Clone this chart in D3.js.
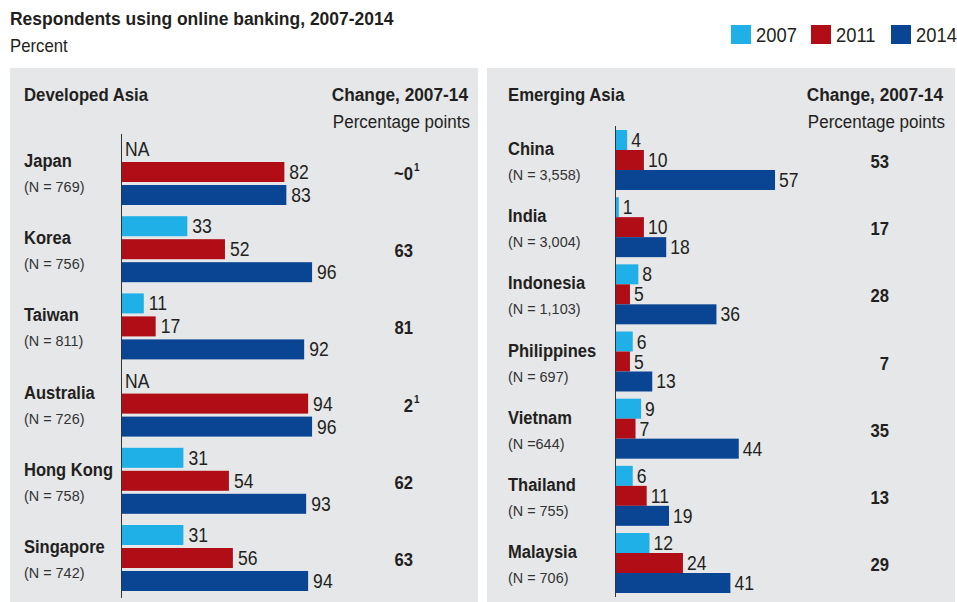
<!DOCTYPE html>
<html>
<head>
<meta charset="utf-8">
<script src="https://cdn.jsdelivr.net/npm/d3@7"></script>
<style>
  body { margin: 0; background: #fff; }
  text { font-family: "Liberation Sans Narrow", "Arial Narrow", "Liberation Sans", Arial, sans-serif; fill: #231f20; }
</style>
</head>
<body>
<div id="chart"></div>
<script>
// Data
const years = ["2007", "2011", "2014"];
const yearColors = ["#1eb0e6", "#b00d17", "#0a4594"];

const devCountries = ["Japan", "Korea", "Taiwan", "Australia", "Hong Kong", "Singapore"];
const devN = ["(N = 769)", "(N = 756)", "(N = 811)", "(N = 726)", "(N = 758)", "(N = 742)"];
const dev2007 = [null, 33, 11, null, 31, 31];
const dev2011 = [82, 52, 17, 94, 54, 56];
const dev2014 = [83, 96, 92, 96, 93, 94];
const devChange = ["~0", "63", "81", "2", "62", "63"];
const devNote = ["1", "", "", "1", "", ""];

const emCountries = ["China", "India", "Indonesia", "Philippines", "Vietnam", "Thailand", "Malaysia"];
const emN = ["(N = 3,558)", "(N = 3,004)", "(N = 1,103)", "(N = 697)", "(N =644)", "(N = 755)", "(N = 706)"];
const em2007 = [4, 1, 8, 6, 9, 6, 12];
const em2011 = [10, 10, 5, 5, 7, 11, 24];
const em2014 = [57, 18, 36, 13, 44, 19, 41];
const emChange = ["53", "17", "28", "7", "35", "13", "29"];
const emNote = ["", "", "", "", "", "", ""];

const W = 957, H = 602;
const svg = d3.select("#chart").append("svg")
    .attr("width", W).attr("height", H);

// the installed sans is wider than the condensed face of the original, so squeeze text horizontally
function place(sel, fx, fy, s) {
    return sel.attr("transform", (d, i) => {
        const x = typeof fx === "function" ? fx(d, i) : fx;
        const y = typeof fy === "function" ? fy(d, i) : fy;
        return `translate(${x},${y}) scale(${s},1)`;
    });
}

// Title
place(svg.append("text"), 10, 25, 0.945)
    .style("font-size", "18.5px").style("font-weight", "bold")
    .text("Respondents using online banking, 2007-2014");
place(svg.append("text"), 10, 52, 0.93)
    .style("font-size", "18px")
    .text("Percent");

// Legend
const legendX = [731, 811, 891];
const legend = svg.selectAll(".legend").data(years).enter().append("g")
    .attr("transform", (d, i) => `translate(${legendX[i]},25)`);
legend.append("rect").attr("width", 20).attr("height", 19)
    .attr("fill", (d, i) => yearColors[i]);
place(legend.append("text"), 25, 17, 0.92)
    .style("font-size", "20px")
    .text(d => d);

function drawPanel(p) {
    const g = svg.append("g");

    g.append("rect").attr("x", p.left).attr("y", 68)
        .attr("width", p.width).attr("height", H - 68)
        .attr("fill", "#e6e7e9");

    place(g.append("text"), p.nameX, 101, 0.93)
        .style("font-size", "18px").style("font-weight", "bold")
        .text(p.title);
    place(g.append("text"), p.headRight, 101, 0.96)
        .attr("text-anchor", "end")
        .style("font-size", "18px").style("font-weight", "bold")
        .text("Change, 2007-14");
    place(g.append("text"), p.headRight + 2, 128, 0.92)
        .attr("text-anchor", "end")
        .style("font-size", "18.5px")
        .text("Percentage points");

    const x = d3.scaleLinear().domain([0, 100]).range([p.axisX, p.axisX + p.pxPerUnit * 100]);

    const y0 = d3.scaleBand().domain(p.countries).range(p.yRange).paddingInner(p.groupPad);
    const y1 = d3.scaleBand().domain(years).range([0, y0.bandwidth()]).paddingInner(p.barPad);

    const rows = p.countries.map((c, i) => ({
        country: c, n: p.n[i], change: p.change[i], note: p.note[i],
        vals: [p.v2007[i], p.v2011[i], p.v2014[i]]
    }));

    const grp = g.selectAll(".grp").data(rows).enter().append("g")
        .attr("transform", d => `translate(0,${y0(d.country)})`);

    const mid = y0.bandwidth() / 2;

    place(grp.append("text"), p.nameX, mid - 5, 0.87)
        .style("font-size", "19px").style("font-weight", "bold")
        .text(d => d.country);
    place(grp.append("text"), p.nameX, mid + 20, 0.93)
        .style("font-size", "15.5px")
        .style("fill", "#333")
        .text(d => d.n);

    place(grp.append("text"), p.changeRight, mid + 8, 0.9)
        .attr("text-anchor", "end")
        .style("font-size", "18.5px").style("font-weight", "bold")
        .text(d => d.change);
    place(grp.filter(d => d.note).append("text"), p.changeRight + 1, mid - 1, 0.9)
        .style("font-size", "11px").style("font-weight", "bold")
        .text(d => d.note);

    const bars = grp.selectAll(".bar").data(d => d.vals.map((v, j) => ({ v: v, year: years[j], j: j })))
        .enter();

    bars.filter(d => d.v !== null).append("rect")
        .attr("x", x(0))
        .attr("y", d => y1(d.year))
        .attr("width", d => x(d.v) - x(0))
        .attr("height", y1.bandwidth())
        .attr("fill", d => yearColors[d.j]);

    place(bars.append("text"),
            d => d.v === null ? x(0) + 3 : x(d.v) + p.labelGap,
            d => y1(d.year) + y1.bandwidth() / 2 + 7, 0.9)
        .style("font-size", "19.5px")
        .text(d => d.v === null ? "NA" : d.v);

    g.append("line")
        .attr("x1", p.axisX - 0.5).attr("x2", p.axisX - 0.5)
        .attr("y1", p.axisTop).attr("y2", p.axisBottom)
        .attr("stroke", "#333").attr("stroke-width", 1);
}

drawPanel({
    left: 10, width: 468, title: "Developed Asia", headRight: 468, nameX: 24,
    countries: devCountries, n: devN, v2007: dev2007, v2011: dev2011, v2014: dev2014,
    change: devChange, note: devNote,
    axisX: 122, pxPerUnit: 1.98, yRange: [139, 591], groupPad: 0.145, barPad: 0.13,
    changeRight: 413, labelGap: 5, axisTop: 134, axisBottom: 598
});

drawPanel({
    left: 487, width: 468, title: "Emerging Asia", headRight: 943, nameX: 508,
    countries: emCountries, n: emN, v2007: em2007, v2011: em2011, v2014: em2014,
    change: emChange, note: emNote,
    axisX: 616, pxPerUnit: 2.79, yRange: [130, 593], groupPad: 0.107, barPad: 0,
    changeRight: 889, labelGap: 4, axisTop: 126, axisBottom: 597
});
</script>
</body>
</html>
